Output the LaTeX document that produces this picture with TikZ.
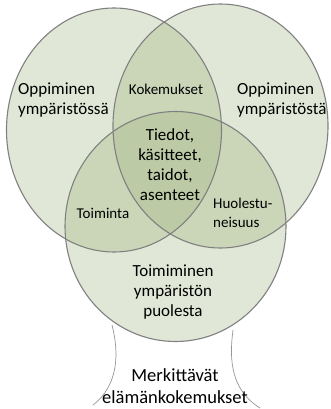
\documentclass[tikz,border=0pt]{standalone}
\usepackage{fontspec}
\setmainfont{Carlito}
\definecolor{vfill}{RGB}{155,176,120}
\definecolor{vline}{RGB}{128,128,128}
\definecolor{tline}{RGB}{150,150,150}
\begin{document}
\begin{tikzpicture}[x=1pt,y=-1pt,
  vennfill/.style={fill=vfill,fill opacity=0.3,draw=none},
  vennline/.style={draw=vline,line width=1.1pt},
  trunk/.style={draw=tline,line width=0.7pt},
  big/.style={font=\fontsize{17}{20}\selectfont,inner sep=0pt,text=black},
  small/.style={font=\fontsize{15}{19}\selectfont,inner sep=0pt,text=black}]
\useasboundingbox (0,0) rectangle (330,409);
\fill[white] (0,0) rectangle (330,409);
% fills
\path[vennfill] (114,130) ellipse [x radius=107.5, y radius=122];
\path[vennfill] (220.5,126) ellipse [x radius=107.5, y radius=122];
\path[vennfill] (175.5,226.5) ellipse [x radius=110.5, y radius=115];
% outlines
\draw[vennline] (114,130) ellipse [x radius=107.5, y radius=122];
\draw[vennline] (220.5,126) ellipse [x radius=107.5, y radius=122];
\draw[vennline] (175.5,226.5) ellipse [x radius=110.5, y radius=115];
% trunk
\draw[trunk] (112,325) .. controls (119,352) and (119,385) .. (93,405);
\draw[trunk] (233,330) .. controls (229,360) and (231,390) .. (260,408);
% texts
\node[big,align=left,anchor=west] (oppL) at (18,100) {Oppiminen\\ympäristössä};
\node[big,align=left,anchor=west] (oppR) at (237,100) {Oppiminen\\ympäristöstä};
\node[small] (koke) at (166,89) {Kokemukset};
\node[big,align=center] (core) at (170,165) {Tiedot,\\käsitteet,\\taidot,\\asenteet};
\node[small] (toim) at (103,213) {Toiminta};
\node[small,align=left,anchor=west] (huol) at (213,213) {Huolestu-\\neisuus};
\node[big,align=center] (toimim) at (173,292) {Toimiminen\\ympäristön\\puolesta};
\node[font=\fontsize{18.5}{22}\selectfont,inner sep=0pt,text=black,align=center] (merk) at (175,386) {Merkittävät\\elämänkokemukset};
\end{tikzpicture}
\end{document}
